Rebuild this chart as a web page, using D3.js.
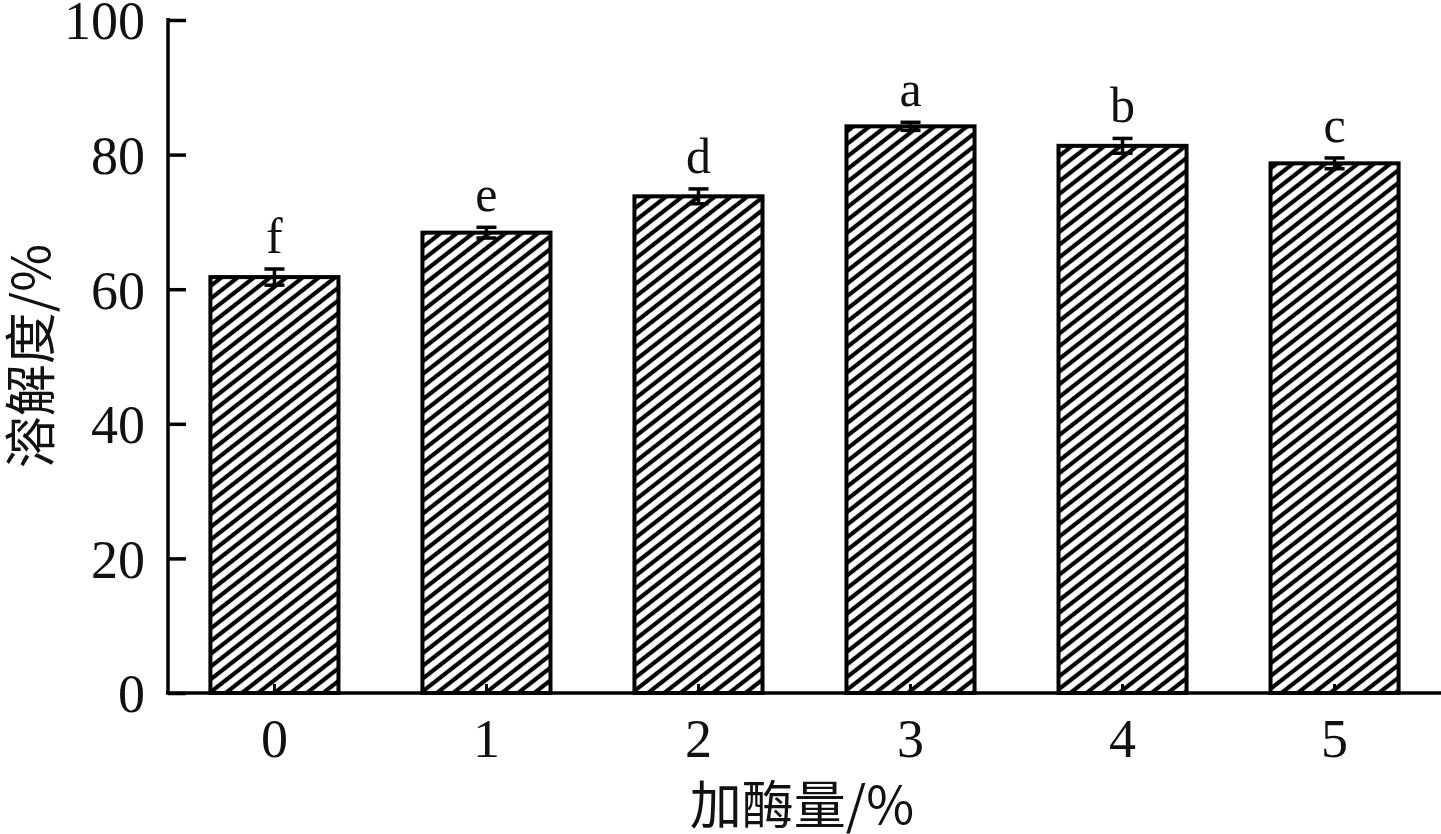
<!DOCTYPE html>
<html><head><meta charset="utf-8">
<script src="https://cdn.jsdelivr.net/npm/d3@7"></script>
<style>body{margin:0;background:#fff}svg{display:block}</style>
</head><body>
<svg id="c" width="1441" height="834"></svg>
<script>
const categories = ["0","1","2","3","4","5"];
const values = [61.8, 68.4, 73.8, 84.2, 81.3, 78.7];
const errors = [1.2, 0.8, 1.1, 0.6, 1.1, 0.8];
const letters = ["f","e","d","a","b","c"];
const yTicks = [0,20,40,60,80,100];
const xTitle = "加酶量/%";
const yTitle = "溶解度/%";

const svg = d3.select("#c");
const serif = "'Liberation Serif','Times New Roman',serif";
const cjk = "'Noto Sans CJK SC','Liberation Serif',serif";

const x = d3.scaleBand().domain(categories).range([168,1441]).paddingInner(0.396).paddingOuter(0.2);
const y = d3.scaleLinear().domain([0,100]).range([693,20]);

const defs = svg.append("defs");
const P = 10;
const pat = defs.append("pattern").attr("id","hatch").attr("patternUnits","userSpaceOnUse")
  .attr("width",20).attr("height",P).attr("patternTransform","rotate(-38)");
pat.append("rect").attr("width",20).attr("height",P).attr("fill","#fff");
pat.append("line").attr("x1",0).attr("x2",20).attr("y1",P/2).attr("y2",P/2)
  .attr("stroke","#000").attr("stroke-width",4.2);

// bars
svg.append("g").selectAll("rect").data(categories).join("rect")
  .attr("x",d=>x(d)).attr("y",(d,i)=>y(values[i]))
  .attr("width",x.bandwidth()).attr("height",(d,i)=>y(0)-y(values[i]))
  .attr("fill","url(#hatch)").attr("stroke","#000").attr("stroke-width",4);

// error bars
const eg = svg.append("g").attr("stroke","#000").attr("stroke-width",3.5);
categories.forEach((d,i)=>{
  const cx = x(d)+x.bandwidth()/2;
  eg.append("line").attr("x1",cx).attr("x2",cx).attr("y1",y(values[i]+errors[i])).attr("y2",y(values[i]-errors[i]));
  eg.append("line").attr("x1",cx-10).attr("x2",cx+10).attr("y1",y(values[i]+errors[i])).attr("y2",y(values[i]+errors[i]));
  eg.append("line").attr("x1",cx-10).attr("x2",cx+10).attr("y1",y(values[i]-errors[i])).attr("y2",y(values[i]-errors[i]));
});

// letters
svg.append("g").selectAll("text").data(categories).join("text")
  .attr("x",d=>x(d)+x.bandwidth()/2).attr("y",(d,i)=>y(values[i]+errors[i])-16)
  .attr("text-anchor","middle").attr("font-family",serif).attr("font-size",50).attr("fill","#111")
  .text((d,i)=>letters[i]);

// y axis
const yAxis = svg.append("g").attr("transform","translate(168,0)")
  .call(d3.axisRight(y).tickValues(yTicks).tickSize(18).tickFormat(""));
yAxis.select(".domain").attr("d","M0,18V693").attr("stroke-width",3.5);
yAxis.selectAll(".tick line").attr("stroke-width",3.5);
svg.append("g").selectAll("text").data(yTicks).join("text")
  .attr("x",145).attr("y",d=>y(d)).attr("dy","0.36em").attr("text-anchor","end")
  .attr("font-family",serif).attr("font-size",54).attr("fill","#111").text(d=>d);

// x axis
const xAxis = svg.append("g").attr("transform","translate(0,693)")
  .call(d3.axisTop(x).tickSize(9).tickFormat(""));
xAxis.select(".domain").attr("d","M166,0H1441").attr("stroke-width",3.5);
xAxis.selectAll(".tick line").attr("stroke-width",3);
svg.append("g").selectAll("text").data(categories).join("text")
  .attr("x",d=>x(d)+x.bandwidth()/2).attr("y",738).attr("dy","0.36em").attr("text-anchor","middle")
  .attr("font-family",serif).attr("font-size",54).attr("fill","#111").text(d=>d);

// titles
svg.append("text").attr("x",802).attr("y",824).attr("text-anchor","middle")
  .attr("font-family",cjk).attr("font-size",52).attr("fill","#111").text(xTitle);
svg.append("text").attr("transform","translate(50,356) rotate(-90)").attr("text-anchor","middle")
  .attr("font-family",cjk).attr("font-size",52).attr("fill","#111").text(yTitle);
</script>
</body></html>
